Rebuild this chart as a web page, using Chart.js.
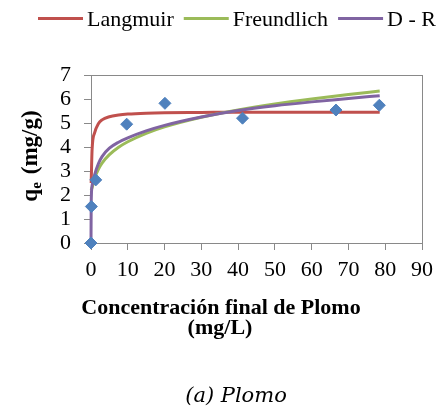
<!DOCTYPE html>
<html>
<head>
<meta charset="utf-8">
<script src="https://cdn.jsdelivr.net/npm/chart.js@4.4.1/dist/chart.umd.min.js"></script>
<style>
  html, body { margin: 0; padding: 0; background: #fff; }
</style>
</head>
<body>
<canvas id="chart" width="441" height="408"></canvas>
<script>
// model curves
const fitC = [0, 0.05, 0.3, 1, 2, 3, 5, 7.5, 10, 15, 20, 30, 40, 50, 60, 70, 78.5];
const langmuir = [null, 2.5, 3.9, 4.6, 4.97, 5.13, 5.26, 5.33, 5.37, 5.41, 5.43, 5.44, 5.45, 5.45, 5.45, 5.45, 5.45];
const freundlich = [null, 2.2, 2.3, 2.7, 3.07, 3.33, 3.68, 3.99, 4.22, 4.57, 4.84, 5.24, 5.54, 5.79, 6.0, 6.19, 6.33];
const dr = [0, 1.6, 2.4, 2.85, 3.3, 3.6, 3.95, 4.2, 4.38, 4.67, 4.9, 5.25, 5.52, 5.72, 5.88, 6.02, 6.14];

// experimental points
const expC = [0, 0.1, 1.3, 9.7, 20.1, 41.2, 66.6, 78.4];
const expQ = [0, 1.52, 2.63, 4.95, 5.82, 5.2, 5.54, 5.74];

const seriesNames = ["Langmuir", "Freundlich", "D - R"];
const xTicks = [0, 10, 20, 30, 40, 50, 60, 70, 80, 90];
const yTicks = [0, 1, 2, 3, 4, 5, 6, 7];

const toXY = (xs, ys) => xs.map((x, i) => ({ x: x, y: ys[i] }));

const axisGray = "#898989";
const serif = "'Liberation Serif', 'Times New Roman', serif";

const curve = (label, values, color, order) => ({
  type: "scatter",
  label: label,
  data: toXY(fitC, values),
  showLine: true,
  borderColor: color,
  backgroundColor: color,
  borderWidth: 3,
  pointRadius: 0,
  cubicInterpolationMode: "monotone",
  clip: false,
  order: order,
});

// frame around plot area + all the loose text
const extras = {
  id: "extras",
  beforeDatasetsDraw(chart) {
    const { ctx, chartArea: a } = chart;
    ctx.save();
    ctx.strokeStyle = axisGray;
    ctx.lineWidth = 1;
    ctx.strokeRect(Math.round(a.left) + 0.5, Math.round(a.top) + 0.5, Math.round(a.right - a.left), Math.round(a.bottom - a.top));
    ctx.restore();
  },
  afterDraw(chart) {
    const ctx = chart.ctx;
    ctx.save();
    ctx.fillStyle = "#000";

    // legend
    ctx.font = "22px " + serif;
    ctx.textBaseline = "alphabetic";
    let x = 38;
    chart.data.datasets.slice(0, 3).forEach((ds) => {
      ctx.strokeStyle = ds.borderColor;
      ctx.lineWidth = 3;
      ctx.beginPath();
      ctx.moveTo(x, 18.5);
      ctx.lineTo(x + 45, 18.5);
      ctx.stroke();
      ctx.fillText(ds.label, x + 49, 26);
      x += 49 + ctx.measureText(ds.label).width + 10;
    });

    // y title: q_e (mg/g)
    ctx.save();
    ctx.translate(30, 156);
    ctx.rotate(-Math.PI / 2);
    const big = "bold 23px " + serif;
    const small = "bold 15px " + serif;
    const gap = 8;
    ctx.font = big;
    const wq = ctx.measureText("q").width;
    const wr = ctx.measureText("(mg/g)").width;
    ctx.font = small;
    const we = ctx.measureText("e").width;
    let tx = -(wq + we + gap + wr) / 2;
    ctx.textBaseline = "alphabetic";
    ctx.font = big;
    ctx.fillText("q", tx, 7);
    ctx.font = small;
    ctx.fillText("e", tx + wq, 11);
    ctx.font = big;
    ctx.fillText("(mg/g)", tx + wq + we + gap, 7);
    ctx.restore();

    // x title
    ctx.textAlign = "center";
    ctx.font = "bold 22px " + serif;
    ctx.fillText("Concentración final de Plomo", 221, 314);
    ctx.fillText("(mg/L)", 220, 334);

    // caption
    ctx.font = "italic 21px 'DejaVu Serif', serif";
    ctx.fillText("(a) Plomo", 236, 402);
    ctx.restore();
  },
};

new Chart(document.getElementById("chart").getContext("2d"), {
  type: "scatter",
  data: {
    datasets: [
      curve(seriesNames[0], langmuir, "#C0504D", 3),
      curve(seriesNames[1], freundlich, "#9BBB59", 2),
      curve(seriesNames[2], dr, "#8064A2", 1),
      {
        type: "scatter",
        label: "Datos",
        data: toXY(expC, expQ),
        pointStyle: "rectRot",
        pointRadius: 6,
        pointBorderWidth: 1,
        backgroundColor: "#4F81BD",
        borderColor: "#4F81BD",
        clip: false,
        order: 0,
      },
    ],
  },
  options: {
    responsive: false,
    animation: false,
    devicePixelRatio: 1,
    layout: { padding: { top: 75, right: 19, left: 0, bottom: 0 } },
    plugins: {
      legend: { display: false },
      tooltip: { enabled: false },
    },
    scales: {
      x: {
        type: "linear",
        min: xTicks[0],
        max: xTicks[xTicks.length - 1],
        afterFit: (s) => { s.height = 165; },
        afterBuildTicks: (s) => { s.ticks = xTicks.map((v) => ({ value: v })); },
        grid: { drawOnChartArea: false, drawTicks: true, tickLength: 7, color: axisGray },
        border: { color: axisGray },
        ticks: { color: "#000", padding: 7, autoSkip: false, maxRotation: 0, font: { family: serif, size: 22 } },
      },
      y: {
        type: "linear",
        min: yTicks[0],
        max: yTicks[yTicks.length - 1],
        afterFit: (s) => { s.width = 91; },
        afterBuildTicks: (s) => { s.ticks = yTicks.map((v) => ({ value: v })); },
        grid: { drawOnChartArea: false, drawTicks: true, tickLength: 7, color: axisGray },
        border: { color: axisGray },
        ticks: { color: "#000", padding: 13, autoSkip: false, font: { family: serif, size: 22 } },
      },
    },
  },
  plugins: [extras],
});
</script>
</body>
</html>
